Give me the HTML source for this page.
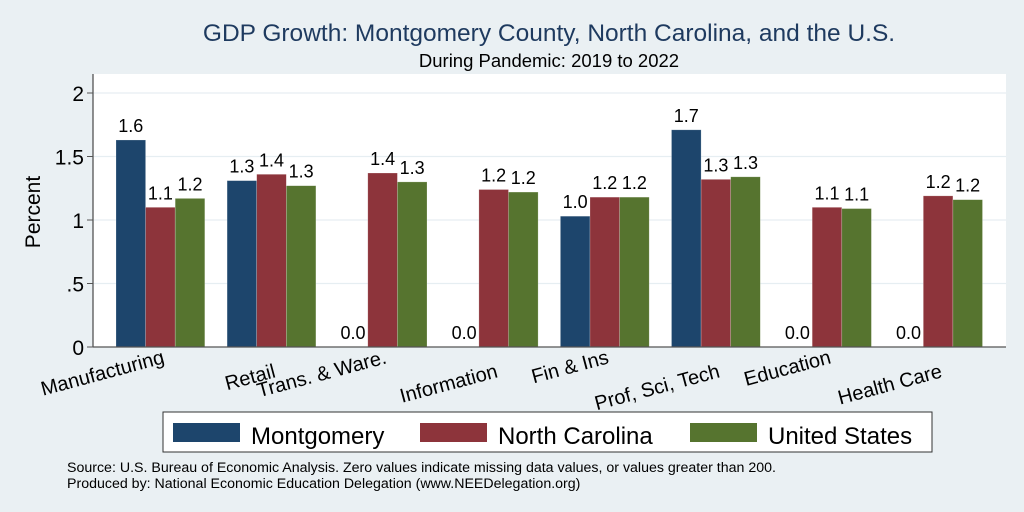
<!DOCTYPE html>
<html><head><meta charset="utf-8"><style>
body{margin:0;background:#eaf0f3;}
svg{display:block;font-family:"Liberation Sans",Arial,sans-serif;}
</style></head><body>
<svg id="c" width="1024" height="512">
<rect x="0" y="0" width="1024" height="512" fill="#eaf0f3"/>
<text x="549" y="41" font-size="24.5" fill="#1e3a5f" text-anchor="middle">GDP Growth: Montgomery County, North Carolina, and the U.S.</text>
<text x="549" y="67" font-size="18.5" fill="#000" text-anchor="middle">During Pandemic: 2019 to 2022</text>
<rect x="93" y="74" width="913" height="273" fill="#fff"/>
<g id="grid"></g>
<g id="bars"></g>
<line x1="93" y1="74" x2="93" y2="347" stroke="#555" stroke-width="1.3"/>
<line x1="93" y1="347" x2="1006" y2="347" stroke="#555" stroke-width="1.3"/>
<text transform="translate(40,212) rotate(-90)" font-size="21" text-anchor="middle">Percent</text>
<g id="xl"></g>
<g>
<rect x="163" y="412" width="769" height="40" fill="#fff" stroke="#333" stroke-width="1"/>
<rect x="173" y="423" width="67" height="19" fill="#1d456c"/>
<text x="251" y="444" font-size="24">Montgomery</text>
<rect x="420" y="423" width="67" height="19" fill="#8d343b"/>
<text x="498" y="444" font-size="24">North Carolina</text>
<rect x="690" y="423" width="67" height="19" fill="#56742f"/>
<text x="768" y="444" font-size="24">United States</text>
</g>
<text x="67" y="472" font-size="14.2">Source: U.S. Bureau of Economic Analysis. Zero values indicate missing data values, or values greater than 200.</text>
<text x="67" y="488" font-size="14.2">Produced by: National Economic Education Delegation (www.NEEDelegation.org)</text>
</svg>
<script>
const categories=["Manufacturing","Retail","Trans. & Ware.","Information","Fin & Ins","Prof, Sci, Tech","Education","Health Care"];
const montgomery=[1.63,1.31,0,0,1.03,1.71,0,0];
const northCarolina=[1.10,1.36,1.37,1.24,1.18,1.32,1.10,1.19];
const unitedStates=[1.17,1.27,1.30,1.22,1.18,1.34,1.09,1.16];
const yTicks=[0,0.5,1,1.5,2];
const yTickLabels=["0",".5","1","1.5","2"];
const NS="http://www.w3.org/2000/svg";
const y=v=>347-v*127;
const x0=116,pitch=111.1,bw=29.6;
function mk(t,a,p){const e=document.createElementNS(NS,t);for(const k in a)e.setAttribute(k,a[k]);p.appendChild(e);return e;}
const grid=document.getElementById('grid');
yTicks.forEach((t,i)=>{
 if(t>0){const g=mk('line',{x1:93,x2:1006,y1:y(t),y2:y(t),stroke:'#e6eef2','stroke-width':1.2},grid);
 
 }
 mk('line',{x1:87,x2:93,y1:y(t),y2:y(t),stroke:'#555'},grid);
 const l=mk('text',{x:84,y:y(t)+8,'font-size':21,'text-anchor':'end'},grid);l.textContent=yTickLabels[i];
 
 
});
const series=[[montgomery,'#1d456c','montgomery'],[northCarolina,'#8d343b','nc'],[unitedStates,'#56742f','us']];
const bars=document.getElementById('bars');
categories.forEach((c,i)=>{
 series.forEach((s,j)=>{
  const v=s[0][i],bx=x0+i*pitch+j*bw;
  const r=mk('rect',{x:bx,y:y(v),width:bw,height:347-y(v),fill:s[1],stroke:'rgba(255,255,255,0.35)','stroke-width':0.6},bars);
  
  
  const t=mk('text',{x:bx+bw/2,y:y(v)-8,'font-size':18,'text-anchor':'middle'},bars);
  t.textContent=v.toFixed(1);
  
  
 });
 const cx=x0+i*pitch+1.5*bw;
 const ly=(i%2==0)?363:377;
 const l=mk('text',{transform:`translate(${cx+5},${ly}) rotate(-15)`,'font-size':20,'text-anchor':'end'},document.getElementById('xl'));
 l.textContent=c;
 
 
});
</script>
</body></html>
